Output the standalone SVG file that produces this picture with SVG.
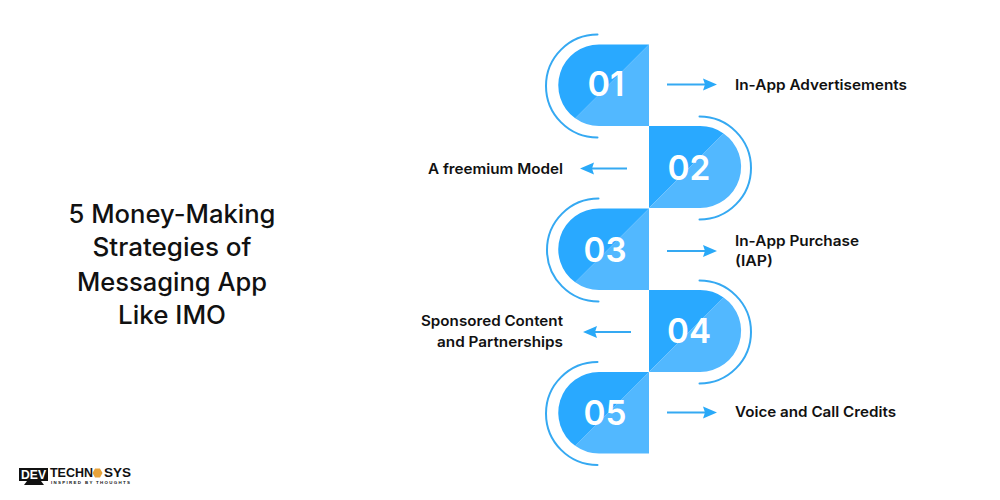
<svg xmlns="http://www.w3.org/2000/svg" width="1000" height="500" viewBox="0 0 1000 500">
<style>
.dark{fill:#29a9ff}.light{fill:#52b8ff}
.arc{fill:none;stroke:#35a9f2;stroke-width:2;stroke-linecap:round}
.conn{fill:none;stroke:#35a9f2;stroke-width:2}
.head{fill:#29a9f8}
.num{font-family:"Inter","Liberation Sans",sans-serif;font-weight:600;font-size:34px;fill:#fff;text-anchor:middle}
.lab{font-family:"Inter","Liberation Sans",sans-serif;font-weight:600;font-size:14.5px;fill:#111}
.end{text-anchor:end}
.title{font-family:"Inter","Liberation Sans",sans-serif;font-weight:500;font-size:25px;fill:#111;text-anchor:middle}
.logo{font-family:"Liberation Sans",sans-serif;font-weight:700;fill:#111}
</style>
<rect width="1000" height="500" fill="#fff"/>
<g id="title">
<text class="title" x="172" y="223" textLength="207" lengthAdjust="spacingAndGlyphs">5 Money-Making</text>
<text class="title" x="172" y="256" textLength="159" lengthAdjust="spacingAndGlyphs">Strategies of</text>
<text class="title" x="172" y="291" textLength="190" lengthAdjust="spacingAndGlyphs">Messaging App</text>
<text class="title" x="172" y="324" textLength="108" lengthAdjust="spacingAndGlyphs">Like IMO</text>
</g>
<g id="node1">
<path class="light" d="M649 44.500V126H599A40.750 40.750 0 0 1 575.200 118.300Z"/>
<path class="dark" d="M649 44.500H599A40.750 40.750 0 0 0 575.200 118.300Z"/>
<path class="arc" d="M597.500 34.500A51.500 51.500 0 0 0 597.500 137.500"/>
<text class="num" x="606" y="96" textLength="37" lengthAdjust="spacingAndGlyphs">01</text>
<text class="lab" x="735" y="90" textLength="172" lengthAdjust="spacingAndGlyphs">In-App Advertisements</text>
</g>
<g id="node2">
<path class="dark" d="M649 126H700A41 41 0 0 1 723.600 133.400L649 208Z"/>
<path class="light" d="M649 208H700A41 41 0 0 0 723.600 133.400Z"/>
<path class="arc" d="M699.500 116.500A51.500 51.500 0 0 1 699.500 219.500"/>
<text class="num" x="689" y="180" textLength="43" lengthAdjust="spacingAndGlyphs">02</text>
<text class="lab end" x="563" y="174" textLength="135" lengthAdjust="spacingAndGlyphs">A freemium Model</text>
</g>
<g id="node3">
<path class="light" d="M649 208.500V290H599A40.750 40.750 0 0 1 575.200 282.300Z"/>
<path class="dark" d="M649 208.500H599A40.750 40.750 0 0 0 575.200 282.300Z"/>
<path class="arc" d="M598.500 198.500A51.500 51.500 0 0 0 598.500 301.500"/>
<text class="num" x="605" y="262" textLength="43" lengthAdjust="spacingAndGlyphs">03</text>
<text class="lab" x="735" y="245.500" textLength="124" lengthAdjust="spacingAndGlyphs">In-App Purchase</text>
<text class="lab" x="735" y="266" textLength="38" lengthAdjust="spacingAndGlyphs">(IAP)</text>
</g>
<g id="node4">
<path class="dark" d="M649 290H700A41 41 0 0 1 723.600 297.400L649 372Z"/>
<path class="light" d="M649 372H700A41 41 0 0 0 723.600 297.400Z"/>
<path class="arc" d="M699.500 280.500A51.500 51.500 0 0 1 699.500 383.500"/>
<text class="num" x="689" y="343" textLength="44" lengthAdjust="spacingAndGlyphs">04</text>
<text class="lab end" x="563" y="326" textLength="142" lengthAdjust="spacingAndGlyphs">Sponsored Content</text>
<text class="lab end" x="563" y="347" textLength="126" lengthAdjust="spacingAndGlyphs">and Partnerships</text>
</g>
<g id="node5">
<path class="light" d="M649 372V453.500H599A40.750 40.750 0 0 1 575.200 445.800Z"/>
<path class="dark" d="M649 372H599A40.750 40.750 0 0 0 575.200 445.800Z"/>
<path class="arc" d="M597.500 362A51.500 51.500 0 0 0 597.500 465"/>
<text class="num" x="605" y="425" textLength="43" lengthAdjust="spacingAndGlyphs">05</text>
<text class="lab" x="735" y="417" textLength="161" lengthAdjust="spacingAndGlyphs">Voice and Call Credits</text>
</g>
<g id="connectors">
<path class="conn" d="M667 84.500H705"/><path class="head" d="M717 84.500L703 78.500L705 84.500L703 90.500Z"/>
<path class="conn" d="M627 168.500H590"/><path class="head" d="M580 168.500L594 162.500L592 168.500L594 174.500Z"/>
<path class="conn" d="M667 251H705"/><path class="head" d="M717 251L703 245L705 251L703 257Z"/>
<path class="conn" d="M631 332H594"/><path class="head" d="M583 332L597 326L595 332L597 338Z"/>
<path class="conn" d="M667 412.500H705"/><path class="head" d="M717 412.500L703 406.500L705 412.500L703 418.500Z"/>
</g>
<g id="logo">
<rect x="19" y="468" width="29" height="13" fill="#111"/>
<path d="M27 481h14l3 4h-20z" fill="#111"/>
<text class="logo" x="21" y="479" font-size="12" style="fill:#fff" textLength="25" lengthAdjust="spacingAndGlyphs">DEV</text>
<text class="logo" x="50" y="477" font-size="12" textLength="43" lengthAdjust="spacingAndGlyphs">TECHN</text>
<path d="M95 468.500h5l2.500 4.500l-2.500 4.500h-5l-2.500-4.500z" fill="#e8a33a"/>
<text class="logo" x="104" y="477" font-size="12" textLength="27" lengthAdjust="spacingAndGlyphs">SYS</text>
<text class="logo" x="51" y="483.500" font-size="4.400" textLength="79" lengthAdjust="spacing">INSPIRED BY THOUGHTS</text>
</g>
</svg>
